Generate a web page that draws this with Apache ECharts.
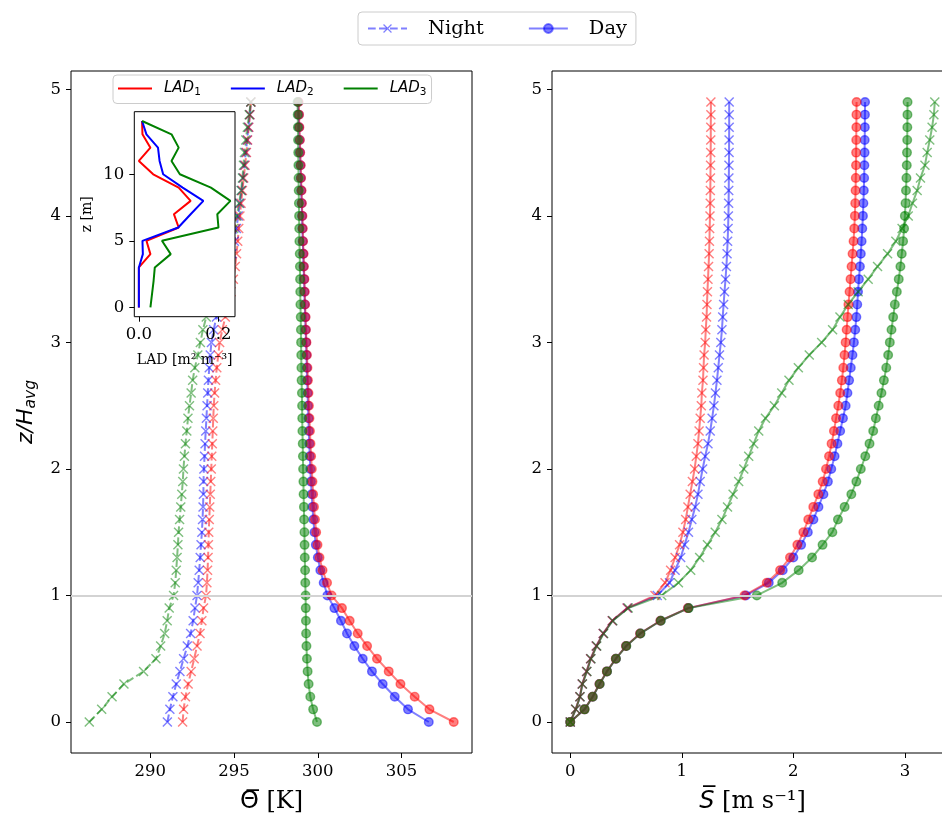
<!DOCTYPE html>
<html>
<head>
<meta charset="utf-8">
<script src="https://cdn.jsdelivr.net/npm/echarts@6/dist/echarts.min.js"></script>
<style>
  html, body { margin: 0; padding: 0; background: #fff; }
  #chart { width: 942px; height: 816px; }
</style>
</head>
<body>
<div id="chart"></div>
<script>
// Normalised height z/H_avg of every profile level
const heights = [0.0, 0.1, 0.2, 0.3, 0.4, 0.5, 0.6, 0.7, 0.8, 0.9,
  1.0, 1.1, 1.2, 1.3, 1.4, 1.5, 1.6, 1.7, 1.8, 1.9,
  2.0, 2.1, 2.2, 2.3, 2.4, 2.5, 2.6, 2.7, 2.8, 2.9,
  3.0, 3.1, 3.2, 3.3, 3.4, 3.5, 3.6, 3.7, 3.8, 3.9,
  4.0, 4.1, 4.2, 4.3, 4.4, 4.5, 4.6, 4.7, 4.8, 4.9];

// Mean potential temperature [K]
const thetaNight1 = [291.93, 291.99, 292.10, 292.26, 292.44, 292.62, 292.79, 292.97, 293.08, 293.18,
  293.33, 293.38, 293.42, 293.45, 293.47, 293.49, 293.52, 293.55, 293.58, 293.61,
  293.64, 293.67, 293.70, 293.73, 293.76, 293.79, 293.84, 293.90, 293.97, 294.06,
  294.14, 294.30, 294.48, 294.66, 294.82, 294.96, 295.07, 295.15, 295.22, 295.28,
  295.35, 295.42, 295.50, 295.58, 295.66, 295.74, 295.81, 295.88, 295.95, 296.01];
const thetaNight2 = [291.02, 291.17, 291.35, 291.55, 291.77, 291.99, 292.21, 292.41, 292.56, 292.67,
  292.79, 292.86, 292.92, 292.98, 293.03, 293.08, 293.12, 293.15, 293.17, 293.18,
  293.20, 293.24, 293.27, 293.31, 293.35, 293.39, 293.43, 293.47, 293.52, 293.58,
  293.65, 293.78, 293.95, 294.14, 294.34, 294.54, 294.72, 294.88, 295.02, 295.14,
  295.25, 295.35, 295.45, 295.54, 295.62, 295.70, 295.78, 295.86, 295.94, 296.00];
const thetaNight3 = [286.36, 287.10, 287.72, 288.43, 289.60, 290.34, 290.62, 290.86, 291.01, 291.13,
  291.39, 291.49, 291.55, 291.60, 291.65, 291.69, 291.75, 291.82, 291.88, 291.94,
  291.98, 292.04, 292.10, 292.18, 292.25, 292.34, 292.44, 292.53, 292.66, 292.84,
  292.99, 293.14, 293.34, 293.56, 293.80, 294.04, 294.28, 294.52, 294.76, 294.98,
  295.16, 295.30, 295.42, 295.50, 295.56, 295.62, 295.70, 295.79, 295.90, 296.00];
const thetaDay1 = [308.11, 306.66, 305.78, 304.93, 304.23, 303.53, 302.94, 302.38, 301.90, 301.44,
  300.82, 300.55, 300.28, 300.10, 299.98, 299.90, 299.83, 299.77, 299.72, 299.68,
  299.64, 299.60, 299.56, 299.53, 299.50, 299.47, 299.44, 299.41, 299.38, 299.35,
  299.32, 299.29, 299.27, 299.24, 299.22, 299.20, 299.17, 299.15, 299.12, 299.10,
  299.08, 299.05, 299.03, 299.00, 298.98, 298.95, 298.93, 298.90, 298.88, 298.85];
const thetaDay2 = [306.62, 305.38, 304.59, 303.87, 303.23, 302.68, 302.18, 301.74, 301.38, 300.99,
  300.57, 300.35, 300.15, 300.00, 299.88, 299.80, 299.73, 299.68, 299.63, 299.59,
  299.55, 299.52, 299.49, 299.46, 299.44, 299.41, 299.39, 299.36, 299.34, 299.32,
  299.30, 299.27, 299.25, 299.22, 299.20, 299.18, 299.15, 299.13, 299.10, 299.08,
  299.06, 299.03, 299.01, 298.98, 298.96, 298.93, 298.91, 298.88, 298.86, 298.83];
const thetaDay3 = [299.95, 299.72, 299.55, 299.45, 299.39, 299.35, 299.32, 299.30, 299.29, 299.28,
  299.27, 299.25, 299.24, 299.22, 299.21, 299.20, 299.18, 299.17, 299.15, 299.14,
  299.12, 299.11, 299.10, 299.08, 299.07, 299.06, 299.05, 299.03, 299.02, 299.01,
  299.00, 298.99, 298.98, 298.96, 298.95, 298.94, 298.93, 298.92, 298.90, 298.89,
  298.88, 298.87, 298.86, 298.85, 298.84, 298.83, 298.82, 298.81, 298.80, 298.79];

// Mean horizontal wind speed [m s-1]
const speedNight1 = [0.000, 0.048, 0.086, 0.107, 0.146, 0.182, 0.233, 0.295, 0.376, 0.510,
  0.760, 0.850, 0.900, 0.940, 0.980, 1.010, 1.035, 1.055, 1.075, 1.095,
  1.115, 1.130, 1.145, 1.155, 1.165, 1.175, 1.180, 1.190, 1.195, 1.200,
  1.210, 1.215, 1.222, 1.226, 1.230, 1.235, 1.240, 1.245, 1.248, 1.250,
  1.253, 1.255, 1.256, 1.257, 1.258, 1.259, 1.260, 1.260, 1.261, 1.261];
const speedNight2 = [0.000, 0.049, 0.087, 0.108, 0.147, 0.183, 0.234, 0.296, 0.378, 0.512,
  0.780, 0.890, 0.940, 0.990, 1.025, 1.060, 1.090, 1.120, 1.145, 1.165,
  1.187, 1.210, 1.235, 1.255, 1.272, 1.288, 1.302, 1.315, 1.327, 1.338,
  1.350, 1.360, 1.367, 1.375, 1.383, 1.392, 1.400, 1.406, 1.411, 1.415,
  1.418, 1.420, 1.421, 1.422, 1.423, 1.424, 1.424, 1.425, 1.425, 1.425];
const speedNight3 = [0.000, 0.050, 0.088, 0.110, 0.150, 0.186, 0.238, 0.300, 0.382, 0.520,
  0.820, 0.970, 1.080, 1.160, 1.230, 1.300, 1.360, 1.410, 1.460, 1.510,
  1.556, 1.600, 1.645, 1.690, 1.750, 1.830, 1.896, 1.961, 2.045, 2.143,
  2.254, 2.352, 2.418, 2.492, 2.581, 2.671, 2.755, 2.845, 2.919, 2.975,
  3.030, 3.068, 3.110, 3.140, 3.180, 3.200, 3.223, 3.244, 3.260, 3.268];
const speedDay1 = [0.000, 0.128, 0.200, 0.262, 0.328, 0.408, 0.500, 0.626, 0.808, 1.055,
  1.562, 1.762, 1.881, 1.970, 2.036, 2.090, 2.134, 2.179, 2.224, 2.263,
  2.293, 2.320, 2.343, 2.364, 2.383, 2.403, 2.420, 2.435, 2.448, 2.459,
  2.469, 2.478, 2.486, 2.494, 2.504, 2.513, 2.522, 2.531, 2.540, 2.546,
  2.552, 2.555, 2.558, 2.560, 2.562, 2.563, 2.564, 2.565, 2.566, 2.567];
const speedDay2 = [0.000, 0.128, 0.201, 0.263, 0.329, 0.409, 0.501, 0.628, 0.810, 1.058,
  1.575, 1.780, 1.905, 2.000, 2.070, 2.130, 2.180, 2.225, 2.270, 2.310,
  2.340, 2.370, 2.395, 2.420, 2.445, 2.469, 2.485, 2.500, 2.515, 2.530,
  2.543, 2.555, 2.565, 2.573, 2.580, 2.588, 2.597, 2.605, 2.612, 2.618,
  2.624, 2.628, 2.632, 2.635, 2.637, 2.639, 2.640, 2.641, 2.642, 2.643];
const speedDay3 = [0.000, 0.129, 0.202, 0.264, 0.330, 0.410, 0.503, 0.630, 0.812, 1.062,
  1.673, 1.900, 2.048, 2.168, 2.262, 2.350, 2.400, 2.460, 2.520, 2.565,
  2.605, 2.645, 2.683, 2.716, 2.740, 2.765, 2.790, 2.812, 2.833, 2.850,
  2.865, 2.880, 2.895, 2.910, 2.928, 2.945, 2.960, 2.972, 2.984, 2.993,
  3.000, 3.006, 3.010, 3.014, 3.017, 3.019, 3.021, 3.022, 3.023, 3.024];

// Leaf area density profiles of the three canopies (inset)
const ladHeights = [0, 1, 2, 3, 4, 5, 6, 7, 8, 9, 10, 11, 12, 13, 14];
const lad1 = [0.000, 0.000, 0.000, 0.000, 0.029, 0.019, 0.100, 0.088, 0.130, 0.100, 0.036, 0.000, 0.029, 0.009, 0.008];
const lad2 = [0.000, 0.000, 0.000, 0.000, 0.010, 0.009, 0.099, 0.130, 0.162, 0.110, 0.061, 0.052, 0.048, 0.019, 0.008];
const lad3 = [0.029, 0.033, 0.037, 0.040, 0.080, 0.058, 0.200, 0.197, 0.230, 0.181, 0.103, 0.082, 0.100, 0.082, 0.008];

// Tick labels
const thetaTicks = [290, 295, 300, 305];
const speedTicks = [0, 1, 2, 3];
const heightTicks = [0, 1, 2, 3, 4, 5];
const ladTicks = [0, 0.2];
const ladHeightTicks = [0, 5, 10];

const COLORS = ['#ff0000', '#0000ff', '#008000'];
const ALPHA = ['rgba(255,0,0,0.5)', 'rgba(0,0,255,0.5)', 'rgba(0,128,0,0.5)'];
const CROSS = 'path://M0,1L1,0L5,4L9,0L10,1L6,5L10,9L9,10L5,6L1,10L0,9L4,5Z';
const SERIF = 'DejaVu Serif';
const SANS = 'DejaVu Sans';

function pairs(xs, ys) { return ys.map((y, i) => [xs[i], y]); }

function profile(name, values, idx, kind, grid, dashed) {
  const night = kind === 'night';
  return {
    name: name,
    type: 'line',
    xAxisIndex: grid, yAxisIndex: grid,
    data: pairs(values, heights),
    symbol: night ? CROSS : 'circle',
    symbolSize: night ? 10 : 8.6,
    showAllSymbol: true,
    lineStyle: { color: ALPHA[idx], width: 2, type: dashed ? [7.7, 3.3] : 'solid' },
    itemStyle: night
      ? { color: ALPHA[idx], borderWidth: 0 }
      : { color: ALPHA[idx], borderColor: ALPHA[idx], borderWidth: 1.4 },
    emphasis: { disabled: true },
    z: 3
  };
}

function refLine(grid) {
  return {
    type: 'line', xAxisIndex: grid, yAxisIndex: grid, data: [], z: 2, silent: true,
    markLine: {
      silent: true, symbol: ['none', 'none'], label: { show: false },
      lineStyle: { color: '#d3d3d3', width: 2, type: 'solid' },
      emphasis: { disabled: true },
      data: [{ yAxis: 1 }]
    }
  };
}

function ladLine(name, values, idx) {
  return {
    name: name, type: 'line', xAxisIndex: 2, yAxisIndex: 2,
    data: pairs(values, ladHeights),
    symbol: 'none',
    lineStyle: { color: COLORS[idx], width: 2 },
    itemStyle: { color: COLORS[idx] },
    emphasis: { disabled: true },
    z: 11
  };
}

const tickFont = { fontFamily: SERIF, fontSize: 16.5, color: '#000' };
const tickStyle = { show: true, inside: false, length: 5, lineStyle: { color: '#000', width: 1 } };

function valueAxis(min, max, ticks, extra) {
  return Object.assign({
    type: 'value', min: min, max: max,
    axisLine: { show: false, onZero: false },
    splitLine: { show: false },
    axisTick: Object.assign({ customValues: ticks }, tickStyle),
    axisLabel: Object.assign({ customValues: ticks, margin: 10 }, tickFont)
  }, extra || {});
}

const thetaMin = 285.27, thetaMax = 309.20;
const speedMin = -0.1634, speedMax = 3.4314;
const zMin = -0.245, zMax = 5.145;

// Draw order per panel: LAD2, LAD1, LAD3 (canopy 3 on top)
const order = [1, 0, 2];
const thetaNight = [thetaNight1, thetaNight2, thetaNight3];
const thetaDay = [thetaDay1, thetaDay2, thetaDay3];
const speedNight = [speedNight1, speedNight2, speedNight3];
const speedDay = [speedDay1, speedDay2, speedDay3];

const series = [refLine(0)];
order.forEach(i => {
  series.push(profile(i === 1 ? 'Night' : 'Night LAD' + (i + 1), thetaNight[i], i, 'night', 0, true));
  series.push(profile(i === 1 ? 'Day' : 'Day LAD' + (i + 1), thetaDay[i], i, 'day', 0, false));
});
series.push(refLine(1));
order.forEach(i => {
  series.push(profile('S Night LAD' + (i + 1), speedNight[i], i, 'night', 1, false));
  series.push(profile('S Day LAD' + (i + 1), speedDay[i], i, 'day', 1, false));
});
series.push(ladLine('LAD1', lad1, 0), ladLine('LAD2', lad2, 1), ladLine('LAD3', lad3, 2));

const option = {
  animation: false,
  backgroundColor: '#fff',
  grid: [
    { left: 71, top: 71, width: 401, height: 682, show: true, borderColor: '#000', borderWidth: 1, backgroundColor: 'transparent', outerBoundsMode: 'none' },
    { left: 552, top: 71, width: 401, height: 682, show: true, borderColor: '#000', borderWidth: 1, backgroundColor: 'transparent', outerBoundsMode: 'none' },
    { left: 134.3, top: 111.7, width: 100.7, height: 205, show: true, borderColor: '#000', borderWidth: 1, backgroundColor: '#fff', z: 10, outerBoundsMode: 'none' }
  ],
  xAxis: [
    valueAxis(thetaMin, thetaMax, thetaTicks, {
      gridIndex: 0,
      name: '{g|\u0398\u0305}{t| [K]}', nameLocation: 'middle', nameGap: 37,
      nameTextStyle: { rich: {
        g: { fontFamily: SANS, fontSize: 24, color: '#000' },
        t: { fontFamily: SERIF, fontSize: 24, color: '#000' } } }
    }),
    valueAxis(speedMin, speedMax, speedTicks, {
      gridIndex: 1,
      name: '{s|S\u0305}{t| [m s\u207B\u00B9]}', nameLocation: 'middle', nameGap: 37,
      nameTextStyle: { rich: {
        s: { fontFamily: SANS, fontStyle: 'italic', fontSize: 24, color: '#000' },
        t: { fontFamily: SERIF, fontSize: 24, color: '#000' } } }
    }),
    valueAxis(-0.0115, 0.2415, ladTicks, {
      gridIndex: 2, z: 12,
      axisLabel: Object.assign({ customValues: ladTicks, margin: 10, formatter: v => v.toFixed(1) }, tickFont),
      name: 'LAD [m\u00B2 m\u207B\u00B3]', nameLocation: 'middle', nameGap: 37,
      nameTextStyle: { fontFamily: SERIF, fontSize: 14, color: '#000' }
    })
  ],
  yAxis: [
    valueAxis(zMin, zMax, heightTicks, {
      gridIndex: 0,
      name: '{a|z/H}{b|avg}', nameLocation: 'middle', nameRotate: 90, nameGap: 32,
      nameTextStyle: { rich: {
        a: { fontFamily: SANS, fontStyle: 'italic', fontSize: 22, color: '#000' },
        b: { fontFamily: SANS, fontStyle: 'italic', fontSize: 15.5, color: '#000', padding: [9, 0, 0, 0] } } }
    }),
    valueAxis(zMin, zMax, heightTicks, { gridIndex: 1 }),
    valueAxis(-0.7, 14.7, ladHeightTicks, {
      gridIndex: 2, z: 12,
      name: 'z [m]', nameLocation: 'middle', nameRotate: 90, nameGap: 40,
      nameTextStyle: { fontFamily: SERIF, fontSize: 14, color: '#000' }
    })
  ],
  legend: [
    {
      data: ['Night', 'Day'],
      left: 358, top: 12,
      padding: [7, 9],
      itemWidth: 39, itemHeight: 11, itemGap: 44,
      borderColor: '#cccccc', borderWidth: 1, borderRadius: 4,
      backgroundColor: '#fff',
      textStyle: { fontFamily: SERIF, fontSize: 19.4, color: '#000', padding: [0, 0, 0, 16] },
      selectedMode: false
    },
    {
      data: ['LAD1', 'LAD2', 'LAD3'],
      left: 113, top: 75,
      padding: [6, 5],
      icon: 'rect',
      itemWidth: 34, itemHeight: 2, itemGap: 30,
      borderColor: '#cccccc', borderWidth: 1, borderRadius: 4,
      backgroundColor: 'rgba(255,255,255,0.8)',
      z: 20,
      formatter: n => '{i|LAD}{s|' + n.slice(3) + '}',
      textStyle: {
        padding: [0, 0, 0, 7],
        rich: {
          i: { fontFamily: SANS, fontStyle: 'italic', fontSize: 15, color: '#000' },
          s: { fontFamily: SANS, fontSize: 10.5, color: '#000', padding: [7, 0, 0, 0] }
        }
      },
      selectedMode: false
    }
  ],
  series: series
};

const chart = echarts.init(document.getElementById('chart'), null, { renderer: 'canvas' });
chart.setOption(option);
</script>
</body>
</html>
